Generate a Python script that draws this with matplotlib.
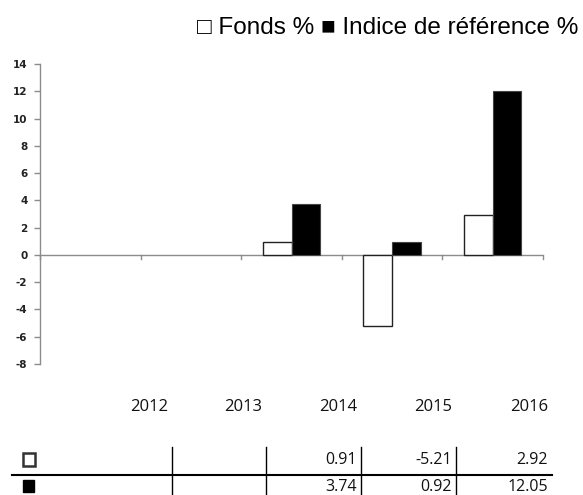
import matplotlib.pyplot as plt
from matplotlib.patches import Rectangle

years = ["2012", "2013", "2014", "2015", "2016"]
fonds = [None, None, 0.91, -5.21, 2.92]
indice = [None, None, 3.74, 0.92, 12.05]
yticks = list(range(-8, 15, 2))

W, H = 583, 495
fig = plt.figure(figsize=(W / 100, H / 100), dpi=100)
grey = "#8c8c8c"

# chart area
ax = fig.add_axes([40 / W, 1 - 364 / H, 503 / W, 300 / H])
bw = 0.285
for i, (f, r) in enumerate(zip(fonds, indice)):
    if f is not None:
        ax.bar(i - bw / 2, f, width=bw, color="white", edgecolor="#222222", linewidth=1)
    if r is not None:
        ax.bar(i + bw / 2, r, width=bw, color="black", edgecolor="#444444", linewidth=0.8)

ax.set_xlim(-0.5, len(years) - 0.5)
ax.set_ylim(-8, 14)
ax.set_yticks(yticks)
ax.set_yticklabels([str(t) for t in yticks], fontsize=7.5, fontweight="bold", color="#222222")
ax.tick_params(axis="y", length=4, color=grey, width=1, pad=5)
for s in ["top", "right", "bottom"]:
    ax.spines[s].set_visible(False)
ax.spines["left"].set_color(grey)
ax.spines["left"].set_linewidth(1)
ax.set_xticks([])
# zero axis with category ticks
ax.axhline(0, color=grey, linewidth=1, zorder=0)
for k in range(len(years) + 1):
    ax.plot([k - 0.5, k - 0.5], [0, -0.3], color=grey, linewidth=1, clip_on=False)

# legend text
fig.text(578 / W, 1 - 28 / H, "\u25a1 Fonds % \u25a0 Indice de référence %",
         ha="right", va="center", fontsize=17.5, family=["Liberation Sans", "DejaVu Sans"])

# data table drawn in pixel space
tab = fig.add_axes([0, 0, 1, 1])
tab.set_xlim(0, W)
tab.set_ylim(H, 0)
tab.axis("off")
col_right = [172, 266, 361, 456, 552]
for yr, xr in zip(years, col_right):
    tab.text(xr - 4, 407, yr, ha="right", va="center", fontsize=12,
             family=["Open Sans", "DejaVu Sans"], color="#111111")
tab.plot([12, 552], [475, 475], color="black", linewidth=1.5)
for xr in col_right[:-1]:
    tab.plot([xr, xr], [447, 495], color="black", linewidth=1)
tab.add_patch(Rectangle((23, 453), 12, 13, facecolor="white", edgecolor="#333333", linewidth=1.8))
tab.add_patch(Rectangle((23, 480), 11, 12, facecolor="black", edgecolor="black"))
for row_y, vals in [(460, fonds), (487, indice)]:
    for v, xr in zip(vals, col_right):
        if v is not None:
            tab.text(xr - 4, row_y, f"{v:.2f}", ha="right", va="center", fontsize=11.5,
                     family=["Open Sans", "DejaVu Sans"], color="#111111")

fig.savefig("out.png", dpi=100)
